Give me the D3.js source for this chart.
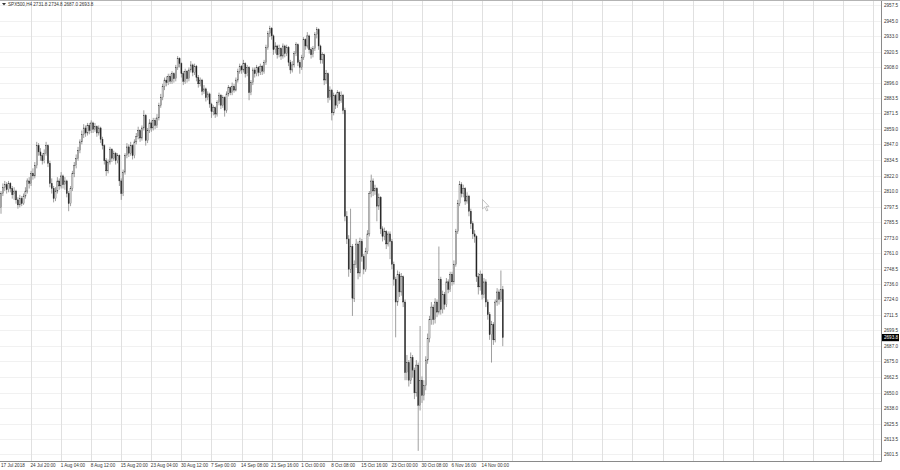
<!DOCTYPE html>
<html>
<head>
<meta charset="utf-8">
<script src="https://cdnjs.cloudflare.com/ajax/libs/d3/7.8.5/d3.min.js"></script>
<style>
  body { margin: 0; background: #fff; }
  svg { display: block; }
  .lbl { font-family: "Liberation Sans", Arial, sans-serif; font-size: 4.6px; fill: #333; }
</style>
</head>
<body>
<div id="chart"></div>
<script>
// SPX500 H4 candles (one entry per drawn bar)
var opens = [
  2797,2808,2813,2815,2811,2816,2812,2807,2810,2803,
  2799,2804,2800,2806,2810,2818,2816,2824,2822,2830,
  2846,2841,2838,2834,2840,2846,2832,2816,2812,2804,
  2810,2818,2814,2822,2815,2818,2808,2800,2812,2824,
  2830,2836,2842,2849,2855,2860,2856,2862,2858,2864,
  2859,2861,2856,2860,2851,2846,2834,2826,2833,2843,
  2836,2840,2834,2838,2818,2808,2825,2838,2845,2840,
  2846,2838,2849,2853,2858,2852,2860,2870,2850,2858,
  2864,2860,2866,2862,2868,2878,2884,2893,2898,2896,
  2901,2897,2903,2899,2908,2915,2911,2903,2897,2905,
  2899,2906,2910,2904,2909,2900,2895,2898,2889,2891,
  2884,2887,2879,2873,2876,2871,2880,2886,2878,2884,
  2874,2887,2892,2888,2893,2890,2898,2905,2909,2906,
  2911,2903,2908,2888,2896,2906,2903,2908,2904,2909,
  2905,2912,2924,2935,2939,2933,2922,2925,2918,2923,
  2917,2925,2919,2924,2912,2906,2910,2919,2926,2912,
  2908,2916,2930,2925,2933,2922,2918,2923,2934,2938,
  2925,2914,2918,2898,2903,2884,2890,2872,2886,2878,
  2888,2882,2886,2874,2790,2772,2748,2766,2725,2752,
  2768,2745,2770,2758,2748,2762,2776,2808,2818,2810,
  2812,2798,2805,2780,2774,2778,2768,2776,2770,2752,
  2740,2722,2744,2730,2742,2722,2666,2674,2660,2678,
  2668,2650,2672,2640,2660,2648,2656,2676,2693,2708,
  2718,2708,2722,2714,2740,2716,2728,2720,2738,2732,
  2744,2738,2752,2778,2800,2815,2808,2812,2802,2806,
  2794,2784,2776,2774,2742,2734,2744,2728,2738,2722,
  2712,2696,2704,2692,2722,2730,2724,2731.8
];
var highs = [
  2810,2816,2818,2817,2818,2817,2814,2813,2811,2805,
  2807,2806,2808,2813,2820,2821,2826,2828,2833,2849,
  2848,2844,2840,2843,2849,2847,2834,2820,2814,2813,
  2821,2820,2825,2823,2821,2819,2810,2814,2826,2833,
  2839,2845,2851,2858,2863,2862,2864,2864,2866,2865,
  2864,2862,2862,2861,2853,2847,2836,2835,2845,2844,
  2842,2841,2840,2839,2820,2827,2840,2848,2847,2849,
  2847,2851,2856,2861,2859,2862,2874,2871,2860,2867,
  2866,2868,2868,2871,2880,2887,2895,2900,2901,2903,
  2903,2905,2904,2910,2917,2916,2912,2905,2907,2906,
  2908,2913,2911,2911,2910,2902,2900,2899,2894,2892,
  2889,2888,2880,2878,2877,2882,2888,2887,2886,2885,
  2889,2894,2893,2896,2895,2900,2907,2911,2910,2914,
  2912,2910,2909,2898,2908,2908,2910,2909,2911,2910,
  2914,2926,2937,2941,2940,2934,2928,2926,2926,2924,
  2927,2926,2926,2925,2914,2913,2921,2928,2927,2914,
  2918,2932,2931,2936,2934,2924,2925,2936,2940,2939,
  2926,2920,2919,2906,2904,2893,2891,2888,2887,2890,
  2889,2889,2887,2876,2794,2775,2796,2768,2755,2772,
  2770,2773,2772,2760,2765,2779,2810,2823,2820,2815,
  2813,2808,2806,2782,2781,2779,2778,2778,2772,2754,
  2742,2747,2746,2745,2743,2724,2680,2676,2682,2680,
  2670,2676,2674,2703,2663,2660,2679,2697,2711,2722,
  2720,2725,2724,2766,2742,2731,2730,2741,2740,2746,
  2746,2755,2780,2803,2818,2817,2815,2813,2809,2807,
  2796,2786,2779,2775,2745,2747,2745,2741,2740,2724,
  2714,2707,2706,2724,2733,2732,2747,2734.8
];
var lows = [
  2792,2806,2810,2808,2809,2809,2804,2803,2800,2796,
  2797,2798,2799,2804,2808,2812,2814,2819,2820,2828,
  2838,2834,2831,2832,2838,2829,2813,2808,2801,2802,
  2808,2811,2812,2812,2811,2805,2794,2798,2810,2821,
  2828,2834,2840,2847,2852,2853,2854,2855,2856,2856,
  2857,2853,2854,2848,2843,2831,2822,2824,2831,2833,
  2834,2831,2832,2814,2803,2806,2823,2836,2837,2838,
  2835,2836,2847,2851,2849,2850,2858,2846,2848,2856,
  2857,2858,2859,2860,2866,2876,2882,2890,2893,2894,
  2895,2895,2896,2897,2906,2908,2900,2894,2895,2896,
  2897,2904,2901,2902,2897,2892,2893,2886,2887,2881,
  2882,2876,2868,2870,2868,2869,2878,2875,2876,2869,
  2872,2885,2886,2886,2888,2889,2896,2903,2903,2904,
  2900,2901,2882,2886,2894,2900,2901,2901,2902,2902,
  2903,2910,2922,2932,2930,2918,2919,2915,2916,2914,
  2915,2916,2917,2909,2903,2904,2908,2917,2909,2903,
  2906,2914,2922,2923,2919,2915,2916,2921,2931,2922,
  2911,2911,2894,2895,2880,2882,2866,2870,2875,2876,
  2879,2880,2871,2786,2768,2742,2745,2711,2722,2749,
  2740,2742,2754,2744,2746,2760,2774,2805,2806,2807,
  2786,2795,2776,2770,2771,2764,2766,2756,2748,2735,
  2694,2719,2726,2727,2718,2660,2660,2655,2657,2662,
  2645,2647,2604,2636,2642,2644,2652,2673,2690,2704,
  2704,2705,2710,2712,2712,2713,2716,2718,2729,2730,
  2735,2736,2750,2776,2798,2805,2805,2799,2800,2790,
  2780,2772,2769,2738,2728,2731,2724,2725,2718,2708,
  2692,2674,2688,2690,2719,2720,2722,2687
];
var closes = [
  2808,2813,2815,2811,2816,2812,2807,2810,2803,2799,
  2804,2800,2806,2810,2818,2816,2824,2822,2830,2846,
  2841,2838,2834,2840,2846,2832,2816,2812,2804,2810,
  2818,2814,2822,2815,2818,2808,2800,2812,2824,2830,
  2836,2842,2849,2855,2860,2856,2862,2858,2864,2859,
  2861,2856,2860,2851,2846,2834,2826,2833,2843,2836,
  2840,2834,2838,2818,2808,2825,2838,2845,2840,2846,
  2838,2849,2853,2858,2852,2860,2870,2850,2858,2864,
  2860,2866,2862,2868,2878,2884,2893,2898,2896,2901,
  2897,2903,2899,2908,2915,2911,2903,2897,2905,2899,
  2906,2910,2904,2909,2900,2895,2898,2889,2891,2884,
  2887,2879,2873,2876,2871,2880,2886,2878,2884,2874,
  2887,2892,2888,2893,2890,2898,2905,2909,2906,2911,
  2903,2908,2888,2896,2906,2903,2908,2904,2909,2905,
  2912,2924,2935,2939,2933,2922,2925,2918,2923,2917,
  2925,2919,2924,2912,2906,2910,2919,2926,2912,2908,
  2916,2930,2925,2933,2922,2918,2923,2934,2938,2925,
  2914,2918,2898,2903,2884,2890,2872,2886,2878,2888,
  2882,2886,2874,2790,2772,2748,2766,2725,2752,2768,
  2745,2770,2758,2748,2762,2776,2808,2818,2810,2812,
  2798,2805,2780,2774,2778,2768,2776,2770,2752,2740,
  2722,2744,2730,2742,2722,2666,2674,2660,2678,2668,
  2650,2672,2640,2660,2648,2656,2676,2693,2708,2718,
  2708,2722,2714,2740,2716,2728,2720,2738,2732,2744,
  2738,2752,2778,2800,2815,2808,2812,2802,2806,2794,
  2784,2776,2774,2742,2734,2744,2728,2738,2722,2712,
  2696,2704,2692,2722,2730,2724,2732,2693.8
];

// price scale labels on the right
var priceTicks = [2957.5, 2945.0, 2933.0, 2920.5, 2908.0, 2896.0, 2883.5, 2871.5, 2859.0, 2847.0,
  2834.5, 2822.0, 2810.0, 2797.5, 2785.5, 2773.0, 2761.0, 2748.5, 2736.0, 2724.0,
  2711.5, 2699.5, 2687.0, 2675.0, 2662.5, 2650.0, 2638.0, 2625.5, 2613.5, 2601.5];

// time scale labels, one every 16 drawn bars
var dateLabels = ["17 Jul 2018", "24 Jul 20:00", "1 Aug 04:00", "8 Aug 12:00", "15 Aug 20:00",
  "23 Aug 04:00", "30 Aug 12:00", "7 Sep 00:00", "14 Sep 08:00", "21 Sep 16:00",
  "1 Oct 00:00", "8 Oct 08:00", "15 Oct 16:00", "23 Oct 00:00", "30 Oct 08:00",
  "6 Nov 16:00", "14 Nov 00:00"];

var symbolName = "SPX500,H4";
var lastPrice = 2693.8;

// layout
var svgWidth = 900;
var svgHeight = 470;
var plotRight = 881;
var plotBottom = 461;
var barsPerLabel = 16;
var gridCount = 29;

var svg = d3.select("#chart")
  .append("svg")
  .attr("width", svgWidth)
  .attr("height", svgHeight);

svg.append("rect")
  .attr("width", svgWidth)
  .attr("height", svgHeight)
  .attr("fill", "#fff");

// bar index -> x
var xScale = d3.scaleLinear()
  .domain([0, barsPerLabel * gridCount])
  .range([1, 873]);

var yScale = d3.scaleLinear()
  .domain([2601.5, 2957.5])
  .range([454, 5]);

var gridBars = d3.range(1, gridCount + 1).map(function(k) { return k * barsPerLabel; });
var labelBars = dateLabels.map(function(d, i) { return i * barsPerLabel; });

// grid
var grid = svg.append("g");
grid.selectAll("line.h")
  .data(priceTicks)
  .enter().append("line")
  .attr("x1", 0)
  .attr("x2", plotRight)
  .attr("y1", function(d) { return Math.round(yScale(d)) + 0.5; })
  .attr("y2", function(d) { return Math.round(yScale(d)) + 0.5; })
  .attr("stroke", "#f1f1f1")
  .attr("stroke-width", 1);

grid.selectAll("line.v")
  .data(gridBars)
  .enter().append("line")
  .attr("x1", function(d) { return Math.round(xScale(d)) + 0.5; })
  .attr("x2", function(d) { return Math.round(xScale(d)) + 0.5; })
  .attr("y1", 0)
  .attr("y2", plotBottom)
  .attr("stroke", "#e0e0e0")
  .attr("stroke-width", 1);

// candles
var candles = d3.range(closes.length);
var bodyW = 1.1;

svg.append("g")
  .selectAll("line")
  .data(candles)
  .enter().append("line")
  .attr("x1", function(i) { return xScale(i); })
  .attr("x2", function(i) { return xScale(i); })
  .attr("y1", function(i) { return yScale(highs[i]); })
  .attr("y2", function(i) { return yScale(lows[i]); })
  .attr("stroke", "#777")
  .attr("stroke-width", 0.7);

svg.append("g")
  .selectAll("rect")
  .data(candles)
  .enter().append("rect")
  .attr("x", function(i) { return xScale(i) - bodyW / 2; })
  .attr("width", bodyW)
  .attr("y", function(i) { return yScale(Math.max(opens[i], closes[i])); })
  .attr("height", function(i) { return Math.max(0.6, Math.abs(yScale(opens[i]) - yScale(closes[i]))); })
  .attr("fill", function(i) { return closes[i] >= opens[i] ? "#f4f4f4" : "#222"; })
  .attr("stroke", "#333")
  .attr("stroke-width", 0.35);

// frame
svg.append("line")
  .attr("x1", plotRight + 0.5).attr("x2", plotRight + 0.5)
  .attr("y1", 0).attr("y2", plotBottom + 0.5)
  .attr("stroke", "#8a8a8a");
svg.append("line")
  .attr("x1", 0).attr("x2", plotRight + 0.5)
  .attr("y1", plotBottom + 0.5).attr("y2", plotBottom + 0.5)
  .attr("stroke", "#8a8a8a");
svg.append("line")
  .attr("x1", 0).attr("x2", svgWidth)
  .attr("y1", 0.5).attr("y2", 0.5)
  .attr("stroke", "#b4b4b4");

// price axis
var rightAxis = d3.axisRight(yScale)
  .tickValues(priceTicks)
  .tickFormat(d3.format(".1f"))
  .tickSize(0)
  .tickPadding(3);

var yAxisG = svg.append("g")
  .attr("transform", "translate(" + plotRight + ",0)")
  .call(rightAxis);
yAxisG.select(".domain").remove();
yAxisG.selectAll("text")
  .attr("class", "lbl")
  .attr("font-family", null)
  .attr("font-size", null)
  .attr("fill", null);

// current price marker
var lastY = yScale(lastPrice);
svg.append("rect")
  .attr("x", plotRight + 1)
  .attr("y", lastY - 3.6)
  .attr("width", 17)
  .attr("height", 7.2)
  .attr("fill", "#000");
svg.append("text")
  .attr("class", "lbl")
  .attr("x", plotRight + 3)
  .attr("y", lastY + 1.6)
  .style("fill", "#fff")
  .text(d3.format(".1f")(lastPrice));

// time axis
var bottomAxis = d3.axisBottom(xScale)
  .tickValues(labelBars)
  .tickFormat(function(d, i) { return dateLabels[i]; })
  .tickSize(0)
  .tickPadding(2.5);

var xAxisG = svg.append("g")
  .attr("transform", "translate(0," + plotBottom + ")")
  .call(bottomAxis);
xAxisG.select(".domain").remove();
xAxisG.selectAll("text")
  .attr("class", "lbl")
  .attr("font-family", null)
  .attr("font-size", null)
  .attr("fill", null)
  .attr("text-anchor", "start")
  .attr("dx", function(d, i) { return i === 0 ? -0.5 : -1; });

// header
svg.append("path")
  .attr("d", "M2,3 L6,3 L4,5.5 Z")
  .attr("fill", "#333");
svg.append("text")
  .attr("class", "lbl")
  .attr("x", 8)
  .attr("y", 6)
  .text(symbolName + "  " + [opens[opens.length - 1], highs[highs.length - 1], lows[lows.length - 1], closes[closes.length - 1]]
    .map(d3.format(".1f")).join(" "));

// mouse pointer left in the screenshot
svg.append("path")
  .attr("d", "M482.5,199.5 L482.5,209 L484.6,207 L486.6,211 L488,210.3 L486,206.4 L489,206.4 Z")
  .attr("fill", "#fff")
  .attr("stroke", "#9a9a9a")
  .attr("stroke-width", 0.6);
</script>
</body>
</html>
